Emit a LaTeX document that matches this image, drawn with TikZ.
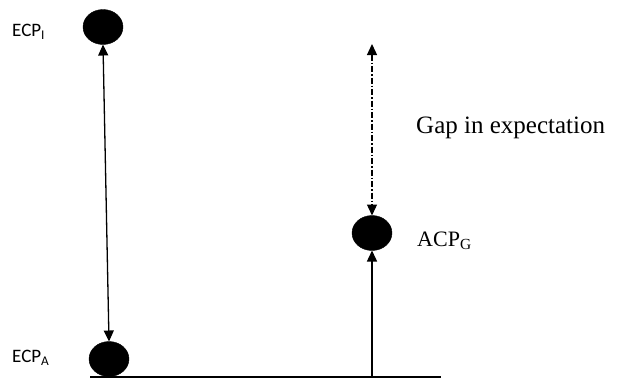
\documentclass[tikz,border=0pt]{standalone}
\usepackage{fontspec}
\setmainfont{Liberation Serif}
\newfontfamily\calfont{Carlito}
\usetikzlibrary{shapes.geometric,arrows.meta,positioning}

\begin{document}
\begin{tikzpicture}[x=1pt,y=-1pt,
  dot/.style={ellipse,fill=black,draw=black,minimum width=40pt,minimum height=35pt,inner sep=0pt,outer sep=0pt},
  ecplabel/.style={font=\calfont\fontsize{19}{22}\selectfont,inner sep=0pt,anchor=west},
  serlabel/.style={inner sep=0pt,anchor=west},
  tip/.style={-{Triangle[width=10pt,length=11pt]}},
  dtip/.style={{Triangle[width=10pt,length=11pt]}-{Triangle[width=10pt,length=11pt]}}]

  \useasboundingbox (0,0) rectangle (617,381);

  \node[dot] (ecpI) at (103,27) {};
  \node[dot] (ecpA) at (109,359) {};
  \node[dot] (acpG) at (372,233) {};

  \node[ecplabel] (labI) at (12,32) {ECP\textsubscript{I}};
  \node[ecplabel] (labA) at (12,358) {ECP\textsubscript{A}};
  \node[serlabel,font=\fontsize{22}{26}\selectfont] (labG) at (417,241) {ACP\textsubscript{G}};
  \node[serlabel,font=\fontsize{25}{30}\selectfont] (gap) at (416,128) {Gap in expectation};

  \coordinate (gtop) at (372,44);
  \coordinate (bl) at (90,377);
  \coordinate (br) at (441,377);
  \coordinate (bm) at (372,377);

  % base line
  \draw[line width=1.8pt] (bl) -- (br);

  % arrows
  \draw[dtip,line width=1.3pt] (ecpI.south) -- (ecpA.north);
  \draw[tip,line width=1.5pt] (bm) -- (acpG.south);
  \draw[dtip,line width=1.3pt,dash pattern=on 6pt off 2pt on 1.5pt off 2pt] (gtop) -- (acpG.north);
\end{tikzpicture}
\end{document}
